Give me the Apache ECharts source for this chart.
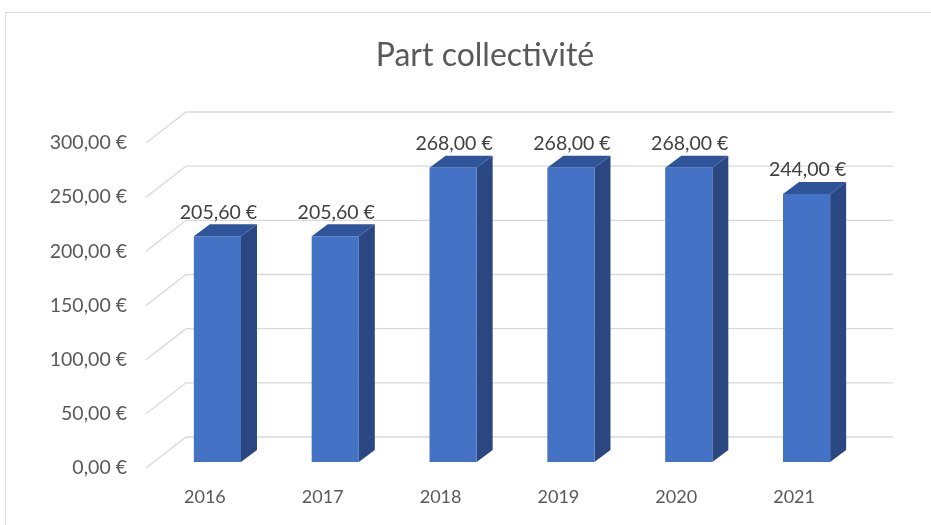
<!DOCTYPE html>
<html>
<head>
<meta charset="utf-8">
<script src="https://cdn.jsdelivr.net/npm/echarts@6/dist/echarts.min.js"></script>
<style>
  html, body { margin: 0; padding: 0; background: #fff; overflow: hidden; }
  #frame { position: absolute; left: 5px; top: 12px; width: 960px; height: 560px; border: 1px solid #d9d9d9; }
  #chart { position: absolute; left: 0; top: 0; width: 931px; height: 525px; }
</style>
</head>
<body>
<div id="frame"></div>
<div id="chart"></div>
<script>
const years = ['2016', '2017', '2018', '2019', '2020', '2021'];
const partCollectivite = [205.6, 205.6, 268, 268, 268, 244];
const yTicks = [0, 50, 100, 150, 200, 250, 300];

const euro = v => v.toFixed(2).replace('.', ',') + ' €';

const myChart = echarts.init(document.getElementById('chart'));

// depth of the back wall and of the columns, in pixels
const wallDx = 40, wallDy = -31;
const barDx = 16, barDy = -12;

const option = {
  animation: false,
  title: {
    text: 'Part collectivité',
    left: 480,
    top: 35,
    textAlign: 'center',
    textStyle: { fontFamily: 'Lato', fontSize: 32, fontWeight: 'normal', color: '#595959' }
  },
  grid: [
    { left: 158.5, right: 65.5, top: 132.6, bottom: 63 },
    { left: 146, right: 78, top: 143, bottom: 57 }
  ],
  xAxis: [
    { gridIndex: 0, type: 'category', data: years, show: false },
    {
      gridIndex: 1, type: 'category', data: years,
      axisLine: { show: false }, axisTick: { show: false },
      axisLabel: { color: '#595959', fontSize: 18, fontFamily: 'Lato', margin: 20 }
    }
  ],
  yAxis: [
    { gridIndex: 0, type: 'value', min: 0, max: 300, show: false },
    {
      gridIndex: 1, type: 'value', min: 0, max: 300, interval: 50,
      axisLine: { show: false }, axisTick: { show: false }, splitLine: { show: false },
      axisLabel: { color: '#595959', fontSize: 19.5, fontFamily: 'Lato', margin: 19, formatter: euro }
    }
  ],
  series: [
    {
      type: 'custom',
      xAxisIndex: 1, yAxisIndex: 1,
      z: 1,
      clip: false,
      silent: true,
      data: yTicks.map(v => [0, v]),
      renderItem: (params, api) => {
        const cs = params.coordSys;
        const y = api.coord([0, api.value(1)])[1];
        return {
          type: 'polyline',
          shape: { points: [[cs.x, y], [cs.x + wallDx, y + wallDy], [cs.x + wallDx + cs.width, y + wallDy]] },
          style: { stroke: '#d9d9d9', lineWidth: 1.3, fill: null }
        };
      }
    },
    {
      type: 'custom',
      xAxisIndex: 0, yAxisIndex: 0,
      z: 2,
      clip: false,
      data: partCollectivite.map((v, i) => [i, v]),
      renderItem: (params, api) => {
        const top = api.coord([api.value(0), api.value(1)]);
        const base = api.coord([api.value(0), 0]);
        const w = api.size([1, 0])[0] * 0.4;
        const x = top[0] - w / 2;
        const y = top[1];
        const b = base[1];
        return {
          type: 'group',
          children: [
            {
              type: 'polygon',
              shape: { points: [[x + w, y], [x + w + barDx, y + barDy], [x + w + barDx, b + barDy], [x + w, b]] },
              style: { fill: '#2a4781' }
            },
            {
              type: 'polygon',
              shape: { points: [[x, y], [x + w, y], [x + w + barDx, y + barDy], [x + barDx, y + barDy]] },
              style: { fill: '#30549a' }
            },
            {
              type: 'rect',
              shape: { x: x, y: y, width: w, height: b - y },
              style: { fill: '#4472c4' }
            },
            {
              type: 'text',
              style: {
                x: top[0] + 1, y: y + barDy - 2,
                text: euro(api.value(1)),
                align: 'center', verticalAlign: 'bottom',
                fill: '#404040', fontSize: 19.5, fontFamily: 'Lato'
              }
            }
          ]
        };
      }
    }
  ]
};

myChart.setOption(option);
window.addEventListener('resize', () => myChart.resize());
</script>
</body>
</html>
